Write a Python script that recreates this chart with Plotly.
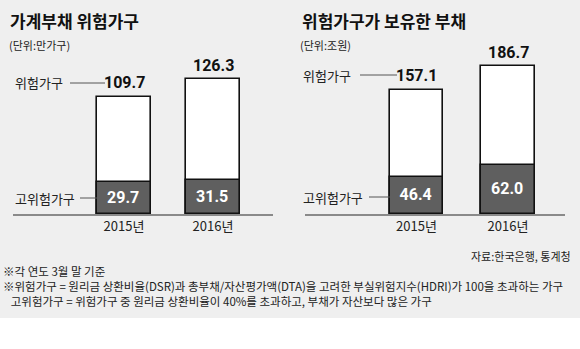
import plotly.graph_objects as go

# Data
years = ["2015년", "2016년"]
risk_households = [109.7, 126.3]        # 위험가구 (만가구)
high_risk_households = [29.7, 31.5]     # 고위험가구 (만가구)
risk_debt = [157.1, 186.7]              # 위험가구 보유 부채 (조원)
high_risk_debt = [46.4, 62.0]           # 고위험가구 보유 부채 (조원)

notes = [
    "※각 연도 3월 말 기준",
    "※위험가구 = 원리금 상환비율(DSR)과 총부채/자산평가액(DTA)을 고려한 부실위험지수(HDRI)가 100을 초과하는 가구",
    "&nbsp;&nbsp;&nbsp;고위험가구 = 위험가구 중 원리금 상환비율이 40%를 초과하고, 부채가 자산보다 많은 가구",
]

W, H = 580, 349
KR = "Noto Sans CJK KR"
NUM = "Liberation Sans Narrow, Roboto, Arial"
BG = "#efefef"
DARK = "#5f5f5f"

def px(y):
    """pixel row -> paper y"""
    return (H - y) / H

def pxx(x):
    return x / W

base = px(214)

fig = go.Figure()

panels = [
    (risk_households, high_risk_households, "x", "y", 0.60),
    (risk_debt, high_risk_debt, "x2", "y2", 0.58),
]

for total, high, xa, ya, bw in panels:
    fig.add_trace(go.Bar(
        x=[0, 1], y=total, width=bw, xaxis=xa, yaxis=ya,
        marker=dict(color="white", line=dict(color="#111111", width=1.6)),
        showlegend=False, hoverinfo="skip"))
    fig.add_trace(go.Bar(
        x=[0, 1], y=high, width=bw, xaxis=xa, yaxis=ya,
        marker=dict(color=DARK, line=dict(color="#111111", width=1.6)),
        text=[f"{v:.1f}" for v in high], textposition="inside",
        insidetextanchor="middle",
        textfont=dict(family=NUM, size=16, color="white", weight="bold"),
        showlegend=False, hoverinfo="skip"))

axis_common = dict(showgrid=False, zeroline=False, fixedrange=True)
tickfont = dict(family=KR, size=13, color="#222")
fig.update_layout(
    width=W, height=H,
    margin=dict(l=0, r=0, t=0, b=0),
    paper_bgcolor="white", plot_bgcolor="rgba(0,0,0,0)",
    barmode="overlay", bargap=0,
    xaxis=dict(domain=[pxx(13), pxx(273)], range=[-1.247, 1.674], anchor="y",
               tickvals=[0, 1], ticktext=years, showline=True, linecolor="#8a8a8a",
               linewidth=1.5, ticks="", tickfont=tickfont, **axis_common),
    yaxis=dict(domain=[base, 1], range=[0, 200.5], visible=False, **axis_common),
    xaxis2=dict(domain=[pxx(305), pxx(565)], range=[-1.219, 1.623], anchor="y2",
                tickvals=[0, 1], ticktext=years, showline=True, linecolor="#8a8a8a",
                linewidth=1.5, ticks="", tickfont=tickfont, **axis_common),
    yaxis2=dict(domain=[base, 1], range=[0, 270.8], visible=False, **axis_common),
)

shapes = [
    dict(type="rect", xref="paper", yref="paper", x0=0, x1=1, y0=px(318), y1=1,
         fillcolor=BG, line=dict(width=0), layer="below"),
]
ann = []

# Total value labels above bars
for total, xa, ya in [(risk_households, "x", "y"), (risk_debt, "x2", "y2")]:
    for i, v in enumerate(total):
        ann.append(dict(x=i, y=v, xref=xa, yref=ya, text=f"{v:.1f}", showarrow=False,
                        yshift=14, font=dict(family=NUM, size=16, color="#111", weight="bold")))

# Callout labels and leader lines
def callout(text, x_text, y, x0, x1):
    ann.append(dict(x=pxx(x_text), y=px(y), xref="paper", yref="paper", text=text,
                    showarrow=False, xanchor="left", yanchor="middle",
                    font=dict(family=KR, size=13, color="#222")))
    shapes.append(dict(type="line", xref="paper", yref="paper", x0=pxx(x0), x1=pxx(x1),
                       y0=px(y), y1=px(y), line=dict(color="#555", width=1)))

callout("위험가구", 13, 83, 70, 105)
callout("고위험가구", 13, 198, 80, 97)
callout("위험가구", 301, 75, 360, 397)
callout("고위험가구", 301, 197, 369, 390)

# Titles, units, source and notes
ann += [
    dict(x=pxx(8), y=px(21), xref="paper", yref="paper", text="가계부채 위험가구",
         showarrow=False, xanchor="left", yanchor="middle",
         font=dict(family=KR, size=17, color="#111", weight="bold")),
    dict(x=pxx(300), y=px(21), xref="paper", yref="paper", text="위험가구가 보유한 부채",
         showarrow=False, xanchor="left", yanchor="middle",
         font=dict(family=KR, size=17, color="#111", weight="bold")),
    dict(x=pxx(7), y=px(45), xref="paper", yref="paper", text="(단위:만가구)",
         showarrow=False, xanchor="left", yanchor="middle",
         font=dict(family=KR, size=11, color="#222")),
    dict(x=pxx(298), y=px(45), xref="paper", yref="paper", text="(단위:조원)",
         showarrow=False, xanchor="left", yanchor="middle",
         font=dict(family=KR, size=11, color="#222")),
    dict(x=pxx(573), y=px(256), xref="paper", yref="paper", text="자료:한국은행, 통계청",
         showarrow=False, xanchor="right", yanchor="middle",
         font=dict(family=KR, size=11, color="#222")),
    dict(x=pxx(1), y=px(286), xref="paper", yref="paper", text="<br>".join(notes),
         showarrow=False, xanchor="left", yanchor="middle", align="left",
         font=dict(family=KR, size=11.5, color="#222")),
]

fig.update_layout(shapes=shapes, annotations=ann)
fig.write_html("out.html")
